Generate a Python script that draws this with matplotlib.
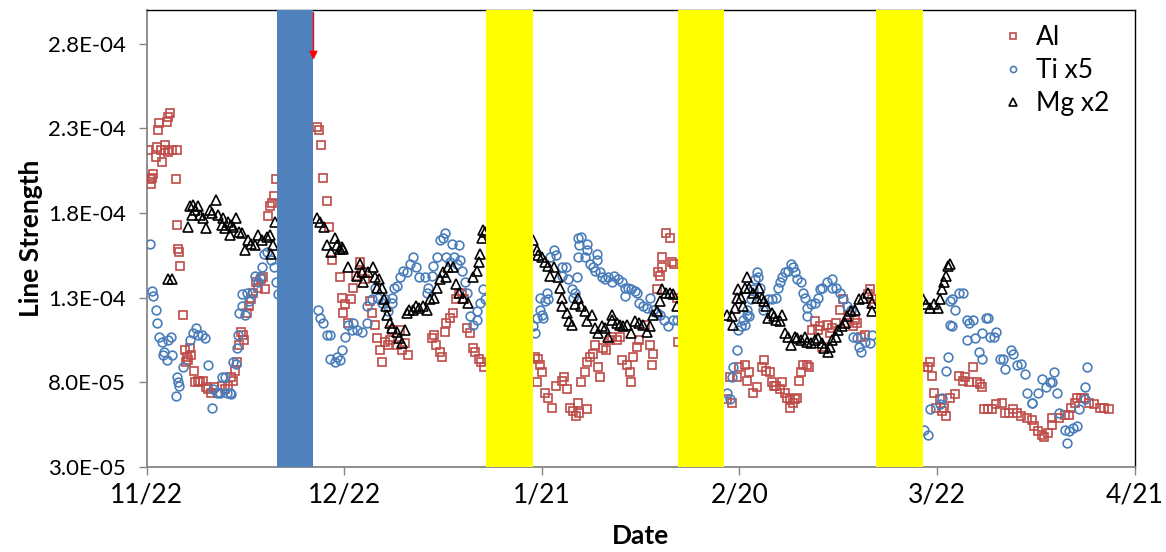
import numpy as np
import matplotlib
matplotlib.use("Agg")
import matplotlib.pyplot as plt
from matplotlib.ticker import FuncFormatter

# days after 11/22, line strength in units of 1E-05
al_day = [0.2, 0.5, 0.6, 0.8, 0.9, 1.4, 1.5, 1.7, 1.8, 2.1, 2.3, 2.7, 2.7, 3.0, 3.2, 3.5, 3.2, 3.8,
          4.4, 4.6, 4.6, 4.7, 4.9, 5.0, 5.5, 5.8, 6.1, 6.2, 6.5, 6.7, 5.9, 7.1, 7.3, 7.7, 8.0, 8.5,
          9.0, 9.3, 9.7, 10.2, 10.8, 11.4, 11.8, 12.3, 12.8, 13.1, 13.4, 13.7, 14.0, 14.3, 14.6,
          14.7, 15.2, 15.5, 15.8, 16.1, 16.5, 16.9, 17.3, 17.6, 17.9, 18.4, 18.7, 19.0, 19.3, 19.6,
          25.8, 26.1, 26.4, 26.7, 27.3, 27.6, 28.1, 29.3, 29.6, 30.1, 29.8, 30.5, 31.0, 31.3, 31.7,
          32.3, 32.6, 33.1, 33.9, 34.2, 34.6, 34.9, 35.4, 35.7, 36.1, 36.6, 36.9, 37.3, 38.0, 38.4,
          38.7, 39.2, 39.6, 43.3, 43.6, 43.9, 44.5, 44.8, 45.2, 45.5, 46.0, 46.5, 46.9, 47.4, 47.8,
          48.1, 48.6, 49.0, 49.5, 49.9, 50.4, 50.7, 51.2,
          58.9, 59.4, 59.7, 60.0, 59.2, 60.4, 60.9, 61.6, 62.2, 63.0, 63.3, 63.8, 64.2, 64.7, 65.1,
          65.4, 65.7, 66.0, 66.5, 66.8, 66.9, 67.3, 67.7, 68.0, 68.5, 68.8, 69.2, 69.8, 70.3, 70.6,
          71.4, 71.8, 72.1, 72.9, 73.3, 73.6, 73.8, 74.4, 74.8, 75.6, 76.4, 76.7, 76.8, 77.4, 77.6,
          77.9, 78.2, 78.3, 78.9, 79.4, 79.7, 80.1, 80.5, 80.6,
          88.1, 88.5, 88.8, 89.6, 90.0, 90.8, 91.2, 91.5, 92.0, 92.6, 93.4, 93.8, 94.1, 94.6, 94.9,
          95.3, 95.6, 96.1, 96.4, 96.9, 97.2, 97.6, 97.6, 98.1, 98.4, 98.8, 99.1, 99.4, 99.6, 100.2,
          100.6, 101.0, 101.4, 101.9, 102.2, 102.6, 103.3, 103.7, 104.1, 104.7, 105.2, 105.7, 106.3,
          106.7, 107.2, 107.6, 107.9, 108.5, 109.0, 109.5, 109.8, 110.1, 110.4,
          118.0, 118.6, 118.9, 119.2, 119.6, 119.9, 120.4, 120.7, 121.1, 121.4, 121.9, 122.7, 123.4,
          123.9, 124.3, 124.9, 125.5, 126.0, 126.5, 126.8, 127.2, 127.7, 128.4, 129.0, 129.8, 130.3,
          131.0, 131.5, 132.1, 132.8, 133.6, 134.4, 134.8, 135.3, 135.9, 136.3, 136.8, 137.4, 137.5,
          138.6, 139.4, 140.1, 140.4, 140.9, 141.3, 141.9, 142.4, 143.1, 143.9, 144.7, 145.4, 146.2]
al_val = [21.7, 20.0, 19.7, 20.1, 20.3, 21.3, 21.9, 22.9, 23.3, 21.7, 21.0, 21.7, 22.0, 23.4, 23.7, 23.9, 21.6, 21.7,
          20.0, 21.7, 17.3, 15.9, 15.7, 14.9, 12.0, 9.9, 9.5, 9.3, 10.0, 9.6, 9.2, 8.7, 8.0, 8.1, 8.0, 8.1,
          7.7, 7.6, 7.4, 7.7, 7.4, 7.8, 7.6, 7.8, 8.3, 8.1, 8.7, 9.2, 10.2, 11.0, 10.8,
          10.5, 12.1, 12.5, 12.9, 13.3, 13.9, 13.6, 14.1, 14.2, 13.5, 17.8, 18.4, 18.6, 19.0, 20.0,
          23.1, 22.9, 22.0, 20.1, 18.7, 17.2, 15.2, 14.2, 13.0, 12.6, 12.1, 11.5, 12.9, 13.6, 14.3,
          15.1, 14.5, 14.1, 12.8, 12.1, 11.4, 10.6, 9.9, 9.2, 10.4, 10.2, 10.5, 11.1, 10.2, 11.1,
          9.9, 10.3, 9.6, 10.6, 10.8, 10.2, 9.8, 9.5, 11.0, 11.5, 11.8, 12.1, 12.9, 13.2, 13.3,
          12.9, 11.2, 10.9, 10.0, 9.8, 9.4, 9.2, 8.9,
          9.5, 9.4, 9.0, 8.6, 8.0, 7.4, 7.1, 6.5, 7.8, 8.1, 8.3, 7.6, 6.5, 6.3, 6.0,
          6.8, 6.2, 8.0, 8.6, 6.4, 9.2, 9.5, 9.7, 10.2, 8.9, 8.3, 10.0, 9.9, 10.5, 10.7,
          10.5, 10.7, 9.3, 9.0, 8.6, 8.0, 9.5, 10.1, 10.5, 11.4, 10.2, 9.0, 9.7, 13.5, 14.5,
          14.3, 14.8, 15.4, 16.8, 16.5, 15.1, 15.0, 13.0, 10.4,
          7.0, 8.3, 6.8, 8.3, 8.9, 9.0, 8.1, 8.6, 7.4, 7.7, 8.9, 9.3, 8.7, 8.6, 8.0,
          7.8, 7.8, 7.6, 8.0, 7.4, 7.1, 7.0, 6.5, 6.8, 7.0, 7.1, 8.1, 8.6, 9.0, 9.0,
          8.9, 11.1, 11.6, 11.1, 11.3, 10.1, 11.4, 10.9, 11.2, 11.5, 12.3, 12.9, 11.5,
          12.0, 11.3, 11.7, 11.5, 10.7, 10.8, 13.2, 13.5, 12.9, 12.6,
          8.9, 8.9, 9.2, 8.4, 7.4, 6.5, 7.0, 6.3, 6.5, 6.0, 7.1, 7.3, 8.4,
          8.1, 8.3, 8.0, 8.9, 8.0, 7.9, 7.7, 6.4, 6.4, 6.4, 6.7, 6.8, 6.2,
          6.2, 6.4, 6.2, 6.0, 5.9, 5.8, 5.4, 5.1, 4.9, 4.8, 5.0, 5.5, 5.9,
          5.9, 6.1, 6.1, 6.5, 6.8, 7.1, 7.1, 7.1, 6.8, 6.7, 6.5, 6.5, 6.4]

ti_day = [0.5, 0.8, 0.9, 1.4, 1.5, 1.8, 2.3, 2.4, 2.6, 3.0, 3.2, 3.6, 3.8, 4.6, 4.7, 4.9, 4.4, 5.5,
          6.5, 7.0, 7.4, 7.7, 8.4, 8.8, 9.3, 9.9, 10.0, 10.6, 11.1, 11.4, 11.8, 12.2, 12.6, 12.8,
          13.1, 13.5, 13.7, 13.8, 14.0, 14.4, 14.4, 14.9, 15.2, 15.5, 15.9, 16.4, 16.9, 17.2, 17.5,
          17.8, 18.2, 18.8, 19.3, 19.6, 19.9,
          26.0, 26.3, 26.7, 27.3, 27.8, 27.8, 28.5, 28.8, 29.3, 29.6, 30.1, 30.5, 31.1, 31.3, 31.9,
          32.6, 33.4, 33.5, 34.2, 34.6, 35.1, 35.7, 36.1, 36.6, 37.2, 37.3, 37.6, 38.0, 38.4, 38.9,
          39.5, 39.9, 40.4, 40.8, 41.4, 42.2, 42.7, 42.5, 43.3, 43.4, 44.0, 44.5, 44.9, 45.2, 45.5,
          46.0, 46.3, 46.6, 47.1, 47.4, 47.5, 47.8, 48.3, 48.6, 49.0, 49.5, 50.1, 50.2, 50.6, 51.0, 51.3,
          58.6, 58.9, 59.2, 59.7, 60.0, 59.7, 60.4, 60.7, 60.9, 60.1, 61.2, 61.9, 62.2, 63.0, 63.6,
          63.1, 63.9, 64.5, 64.7, 65.0, 65.3, 65.4, 65.7, 66.0, 66.8, 66.9, 65.4, 66.5, 67.3, 67.7,
          68.3, 68.3, 68.0, 68.8, 69.1, 69.5, 70.0, 70.6, 71.0, 71.5, 72.1, 72.6, 73.0, 73.6, 74.1,
          74.5, 72.6, 74.8, 75.3, 75.9, 76.4, 76.8, 77.4, 77.9, 78.6, 79.1, 79.9, 80.5,
          88.1, 88.5, 88.8, 89.0, 89.6, 89.7, 90.3, 90.5, 90.8, 91.1, 91.2, 91.5, 91.8, 92.0, 92.3,
          92.6, 92.8, 93.1, 93.5, 94.3, 95.0, 95.6, 95.8, 96.1, 96.4, 96.9, 97.3, 97.9, 98.1, 98.4,
          98.7, 99.4, 99.6, 99.9, 100.2, 100.3, 100.9, 101.4, 101.9, 102.2, 102.6, 103.3, 104.0,
          104.1, 104.7, 105.2, 105.7, 106.3, 107.0, 107.2, 107.8, 108.2, 108.5, 109.0, 109.8, 110.2,
          118.1, 118.6, 118.9, 120.4, 120.7, 121.4, 121.6, 121.9, 122.3, 121.9, 122.3, 122.7, 123.4,
          123.9, 124.5, 124.9, 125.4, 124.6, 125.7, 126.4, 126.8, 126.9, 127.5, 127.7, 128.0, 128.7,
          129.0, 129.5, 130.0, 130.4, 131.3, 131.5, 132.1, 132.8, 133.3, 133.7, 134.4, 134.5, 135.4,
          136.0, 136.6, 137.1, 137.5, 137.8, 138.3, 138.6, 139.4, 139.7, 140.1, 140.6, 141.3, 141.6,
          142.5, 142.5, 142.8]
ti_val = [16.2, 13.4, 13.1, 12.3, 11.5, 10.7, 10.4, 9.6, 9.8, 9.3, 10.5, 10.7, 9.6, 8.3, 8.0, 7.8, 7.2, 8.9,
          10.5, 10.9, 11.2, 10.8, 10.8, 10.6, 9.0, 6.5, 7.6, 7.4, 7.4, 8.3, 8.3, 7.4, 7.4, 7.3,
          9.2, 9.1, 10.0, 10.8, 12.1, 12.5, 13.2, 12.0, 13.3, 12.8, 13.3, 14.3, 13.9, 14.2, 14.8,
          15.6, 15.7, 15.2, 14.8, 13.9, 13.2,
          12.3, 11.8, 11.5, 10.8, 10.8, 9.4, 9.2, 9.5, 9.3, 9.9, 10.7, 11.4, 11.1, 11.5, 11.1,
          11.0, 11.5, 12.5, 12.9, 13.6, 13.0, 12.7, 12.9, 12.2, 12.7, 13.0, 13.6, 13.7, 14.2, 14.6,
          14.5, 15.0, 15.4, 14.8, 14.2, 14.2, 13.6, 13.3, 14.3, 14.9, 15.4, 16.4, 16.5, 16.8, 15.4,
          15.1, 16.2, 15.4, 15.0, 16.1, 15.2, 14.6, 13.9, 13.3, 11.9, 11.4, 11.7, 12.2, 12.7, 13.5, 12.9,
          11.3, 10.9, 11.8, 12.3, 12.0, 13.0, 12.8, 13.3, 12.9, 11.8, 15.4, 15.8, 15.5, 14.8, 14.8,
          14.3, 14.1, 13.5, 13.0, 13.3, 14.2, 16.5, 16.1, 16.6, 16.2, 15.8, 15.4, 15.4, 15.0, 14.8,
          15.6, 15.2, 14.6, 14.5, 14.2, 14.1, 14.2, 13.9, 14.3, 14.1, 13.9, 13.6, 13.6, 13.5, 13.4,
          13.3, 13.1, 12.7, 12.5, 12.4, 13.0, 12.3, 12.1, 12.0, 11.7, 11.3, 11.7, 11.7,
          7.4, 7.0, 8.3, 8.9, 9.9, 11.1, 11.3, 11.7, 11.4, 12.0, 12.3, 11.9, 12.9, 13.5, 14.1,
          14.5, 14.2, 13.6, 12.3, 12.9, 12.9, 13.0, 13.6, 13.9, 14.2, 14.5, 14.6, 15.0, 14.8, 14.5,
          14.1, 13.9, 13.3, 13.0, 12.4, 11.9, 12.6, 12.7, 13.0, 13.5, 13.6, 13.9, 14.1,
          13.6, 13.6, 13.3, 12.9, 12.5, 12.3, 10.7, 10.6, 10.1, 9.8, 10.4, 10.3, 10.8,
          5.2, 4.9, 6.4, 6.7, 7.1, 8.7, 9.5, 11.4, 11.3, 12.8, 12.9, 12.3, 13.3,
          13.3, 11.7, 11.5, 11.7, 10.5, 10.6, 9.8, 9.4, 10.9, 11.8, 11.8, 10.7, 10.7,
          11.0, 9.4, 9.4, 8.8, 9.9, 9.7, 9.0, 9.1, 8.5, 7.4, 6.8, 6.8, 7.4,
          8.2, 7.7, 8.0, 8.0, 8.6, 7.4, 6.2, 5.2, 4.4, 5.1, 5.3, 5.4, 6.4,
          7.0, 7.7, 8.9]

mg_day = [3.2, 3.8, 6.2, 6.5, 6.8, 7.0, 7.3, 7.7, 8.0, 8.5, 9.0, 9.6, 9.9, 10.5, 10.8, 11.4, 11.5,
          11.8, 12.3, 12.6, 12.8, 13.1, 13.5, 14.0, 14.4, 14.9, 15.3, 15.8, 16.4, 16.9, 17.5, 18.2,
          18.7, 18.8, 19.1, 19.4,
          25.8, 26.3, 26.9, 27.3, 27.9, 28.5, 28.8, 29.3, 29.6, 29.8, 30.5, 31.9, 32.3, 32.6, 32.8,
          33.6, 34.3, 34.6, 34.9, 35.2, 35.7, 36.0, 36.3, 36.4, 36.9, 37.3, 38.0, 38.3, 38.7, 39.2,
          39.5, 39.8, 40.4, 40.8, 41.4, 41.9, 42.5, 43.0, 43.6, 44.0, 44.5, 44.9, 45.4, 45.8, 46.5,
          46.9, 47.4, 48.0, 48.7, 49.5, 50.1, 50.4, 50.6, 50.9, 51.0, 51.3,
          58.6, 59.2, 59.4, 60.0, 60.4, 60.9, 61.2, 61.9, 62.4, 62.7, 63.0, 63.1, 63.8, 64.1, 64.5,
          65.0, 65.4, 66.0, 66.5, 66.8, 67.6, 68.0, 68.5, 69.1, 69.5, 70.0, 70.6, 70.7, 71.4, 71.8,
          72.3, 72.9, 73.6, 74.1, 74.7, 75.3, 75.9, 76.4, 76.8, 77.4, 77.9, 78.3, 78.9, 79.4, 79.9, 80.5,
          88.1, 88.8, 89.0, 89.3, 89.6, 89.7, 90.3, 90.5, 90.8, 91.1, 91.5, 92.0, 92.6, 92.9, 93.4,
          93.8, 94.1, 94.3, 94.9, 95.3, 95.6, 96.1, 96.5, 96.9, 97.3, 97.9, 98.4, 98.8, 99.4, 99.9,
          100.3, 100.9, 101.4, 101.9, 102.5, 102.9, 103.4, 103.8, 104.1, 104.7, 105.0, 105.5, 106.0,
          106.4, 107.0, 107.5, 108.2, 108.7, 109.5, 110.1, 110.2,
          117.8, 118.4, 118.9, 119.5, 120.1, 120.4, 120.8, 121.0, 121.3, 121.6, 121.9]
mg_val = [14.1, 14.1, 17.2, 18.4, 17.9, 18.5, 18.2, 18.4, 17.9, 17.7, 17.1, 18.2, 18.0, 18.8, 17.9, 17.3, 17.7,
          17.1, 17.5, 16.7, 17.3, 17.2, 17.7, 16.9, 16.8, 15.8, 16.4, 16.2, 16.1, 16.7, 16.4, 16.6,
          16.7, 15.6, 16.1, 17.5,
          17.7, 17.5, 17.2, 16.1, 15.7, 16.5, 16.1, 15.9, 16.0, 15.9, 14.8, 14.3, 15.0, 14.5, 13.9,
          14.5, 14.8, 14.2, 13.6, 14.1, 13.6, 12.9, 12.5, 12.0, 11.5, 11.2, 11.0, 10.6, 10.3, 11.1,
          12.1, 12.3, 12.3, 12.5, 12.4, 12.5, 12.3, 12.9, 13.0, 13.6, 14.1, 14.5, 14.2, 14.8, 14.8,
          13.8, 13.3, 13.0, 12.7, 14.2, 14.6, 15.1, 15.6, 16.5, 17.0, 16.9,
          16.4, 15.8, 15.5, 15.4, 15.1, 14.9, 14.3, 14.8, 14.2, 13.6, 13.0, 12.5, 12.1, 11.6, 11.4,
          12.6, 13.0, 12.5, 12.2, 11.6, 12.0, 11.2, 10.9, 11.3, 11.2, 10.7, 12.0, 11.7, 11.5, 11.4,
          11.3, 11.4, 10.9, 11.6, 11.5, 11.4, 11.0, 11.3, 12.0, 12.2, 12.8, 13.5, 13.3, 13.3, 13.2, 12.5,
          12.0, 11.9, 11.4, 12.4, 13.0, 13.5, 13.0, 12.5, 13.6, 14.2, 13.6, 13.3, 13.0, 13.6, 13.0,
          12.8, 12.5, 11.8, 12.1, 11.9, 11.7, 11.6, 12.0, 10.9, 10.7, 10.2, 10.7, 10.6, 10.5, 10.7,
          10.4, 10.3, 10.5, 10.6, 10.3, 10.0, 9.8, 10.1, 10.5, 10.7, 11.1, 11.3, 11.5,
          11.9, 12.2, 12.3, 12.9, 13.0, 13.3, 12.7, 12.2,
          12.9, 12.6, 12.4, 12.6, 12.4, 12.9, 13.5, 13.9, 14.3, 14.9, 15.0]

# shaded periods (days after 11/22)
blue_band = (19.7, 25.2)
yellow_bands = [(51.5, 58.6), (80.6, 87.7), (110.7, 117.8)]

tick_days = [0, 30, 60, 90, 120, 150]
tick_labels = ['11/22', '12/22', '1/21', '2/20', '3/22', '4/21']
y_ticks = [3.0e-5, 8.0e-5, 1.3e-4, 1.8e-4, 2.3e-4, 2.8e-4]

plt.rcParams['font.family'] = ['Lato', 'DejaVu Sans']

fig = plt.figure(figsize=(11.66, 5.52), dpi=100)
ax = fig.add_axes([0.126, 0.154, 0.847, 0.828])

scale = 1e-5
ax.plot(al_day, np.array(al_val) * scale, 's', ms=6.3, mfc='none', mec='#BE4B48', mew=1.2, label='Al', zorder=3)
ax.plot(ti_day, np.array(ti_val) * scale, 'o', ms=6.3, mfc='none', mec='#4A7EBB', mew=1.2, label='Ti x5', zorder=3)
ax.plot(mg_day, np.array(mg_val) * scale, '^', ms=7.5, mfc='none', mec='black', mew=1.2, label='Mg x2', zorder=4)

ax.axvspan(blue_band[0], blue_band[1], color='#4F81BD', zorder=5, lw=0)
for b in yellow_bands:
    ax.axvspan(b[0], b[1], color='#FFFF00', zorder=5, lw=0)

# red arrow at the end of the blue period
ax.annotate('', xy=(blue_band[1] + 0.1, 2.69e-4), xytext=(blue_band[1] + 0.1, 3.0e-4),
            arrowprops=dict(arrowstyle='-|>', color='red', lw=1, mutation_scale=12), zorder=6)

ax.set_xlim(0, 150)
ax.set_ylim(3.0e-5, 3.0e-4)
ax.set_xticks(tick_days)
ax.set_xticklabels(tick_labels)
ax.set_yticks(y_ticks)
ax.yaxis.set_major_formatter(FuncFormatter(lambda v, p: '%.1E' % v))

ax.tick_params(axis='both', color='#868686', length=6, width=1)
ax.tick_params(axis='y', labelsize=16, pad=9)
ax.tick_params(axis='x', labelsize=19, pad=5)
for s in ['left', 'bottom']:
    ax.spines[s].set_color('#868686')
    ax.spines[s].set_linewidth(1.3)
for s in ['top', 'right']:
    ax.spines[s].set_color('black')
    ax.spines[s].set_linewidth(1)

ax.set_xlabel('Date', fontsize=19, fontweight='bold', labelpad=12)
ax.set_ylabel('Line Strength', fontsize=19, fontweight='bold', labelpad=4)

ax.legend(loc='upper right', bbox_to_anchor=(0.985, 0.99), frameon=False, fontsize=19,
          handletextpad=0.25, markerscale=0.7, borderaxespad=0.0, labelspacing=0.3, handlelength=1.2)

fig.savefig('out.png', dpi=100)
